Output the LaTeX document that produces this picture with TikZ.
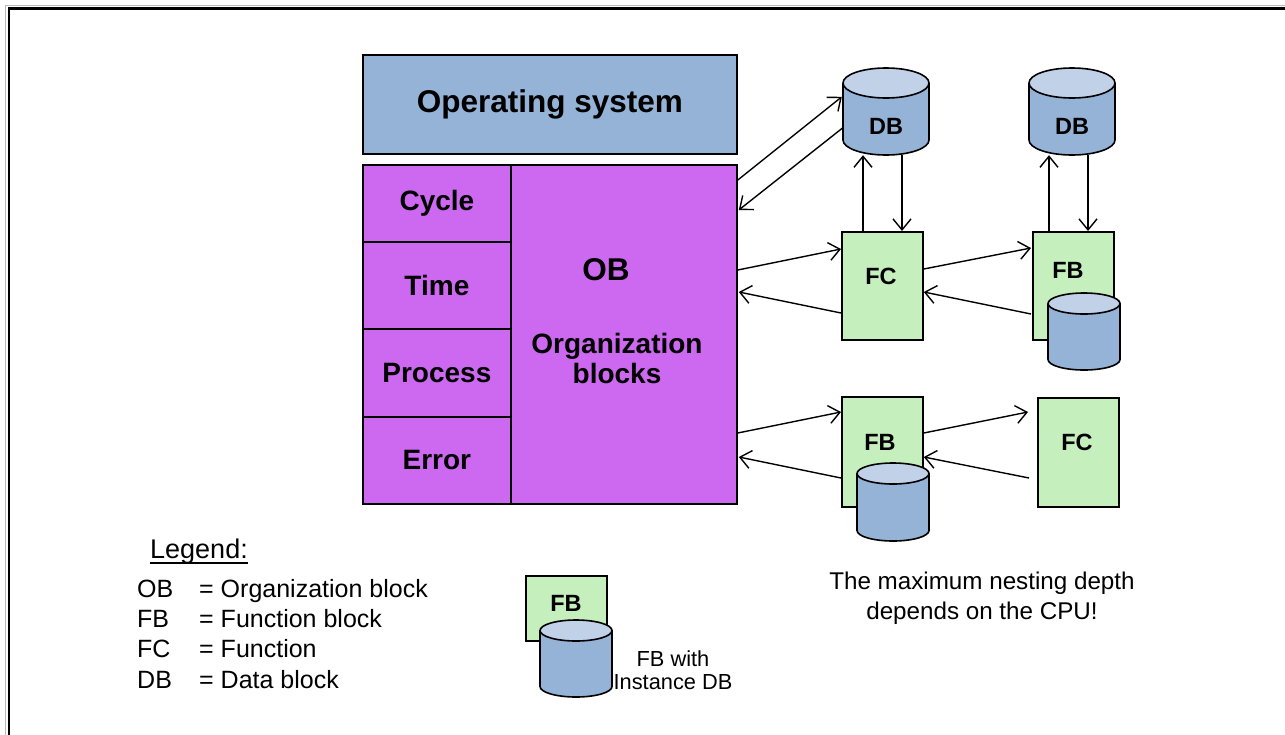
\documentclass[tikz,border=0pt]{standalone}
\usepackage{fontspec}
\setmainfont{Liberation Sans}
\usetikzlibrary{arrows.meta}

\definecolor{osblue}{RGB}{149,179,215}
\definecolor{dbtop}{RGB}{192,209,232}
\definecolor{obpurple}{RGB}{205,104,240}
\definecolor{fgreen}{RGB}{198,239,190}

% data block cylinder: name, centre x, top y, bottom y, x radius, y radius
\newcommand\dbcyl[6]{%
  \fill[osblue] ({#2-#5},{#3+#6}) -- ({#2-#5},{#4-#6})
     arc[start angle=180,end angle=0,x radius=#5,y radius=#6] -- ({#2+#5},{#3+#6}) -- cycle;
  \draw[line width=1.6pt] ({#2-#5},{#3+#6}) -- ({#2-#5},{#4-#6})
     arc[start angle=180,end angle=0,x radius=#5,y radius=#6] -- ({#2+#5},{#3+#6});
  \draw[line width=1.6pt,fill=dbtop] (#2,{#3+#6}) ellipse[x radius=#5,y radius=#6];
  \node[inner sep=0,minimum width={2*#5},minimum height={#4-#3}] (#1) at (#2,{(#3+#4)/2}) {};
}

\begin{document}
\begin{tikzpicture}[x=1pt,y=-1pt,
  blk/.style={draw=black,line width=1.8pt,inner sep=0,anchor=north west},
  purplebox/.style={blk,fill=obpurple},
  greenbox/.style={blk,fill=fgreen},
  arr/.style={line width=1.4pt,-{Straight Barb[length=11pt,width=18pt]}},
  cell/.style={font=\fontsize{28}{33}\selectfont\bfseries},
  small/.style={inner sep=0,font=\fontsize{23.5}{27}\selectfont\bfseries},
  legtxt/.style={inner sep=0,anchor=base west,font=\fontsize{25}{30}\selectfont}]

\useasboundingbox (0,0) rectangle (1285,734);

% page frame
\draw[gray!55,line width=1.4pt] (5.6,5.6) rectangle (1300,750);
\draw[black,line width=2.6pt] (8.8,8.4) rectangle (1300,750);

% operating system
\node[blk,fill=osblue,minimum width=374pt,minimum height=99pt,
      font=\fontsize{31.5}{36}\selectfont\bfseries] (os) at (362,54) {Operating system};

% organization blocks
\node[purplebox,minimum width=226pt,minimum height=339pt] (ob) at (510,164) {};
\node[purplebox,cell,minimum width=148pt,minimum height=77pt] (cyc) at (362,164) {Cycle};
\node[purplebox,cell,minimum width=148pt,minimum height=87pt] (tim) at (362,241) {Time};
\node[purplebox,cell,minimum width=148pt,minimum height=88pt] (pro) at (362,328) {Process};
\node[purplebox,cell,minimum width=148pt,minimum height=87pt] (err) at (362,416) {Error};
\node[inner sep=0,font=\fontsize{31.5}{36}\selectfont\bfseries] (obt) at (606,270) {OB};
\node[cell,inner sep=0,align=center,font=\fontsize{28}{30}\selectfont\bfseries] (obn) at (617,358) {Organization\\blocks};

% functions and function blocks
\node[greenbox,minimum width=81pt,minimum height=108pt] (fc1) at (841,231) {};
\node[small] (fc1t) at (881,276) {FC};
\node[greenbox,minimum width=81pt,minimum height=108pt] (fb1) at (1032,231) {};
\node[small] (fb1t) at (1068,270) {FB};
\node[greenbox,minimum width=81pt,minimum height=110pt] (fb2) at (841,396) {};
\node[small] (fb2t) at (880,442) {FB};
\node[greenbox,minimum width=81pt,minimum height=109pt] (fc2) at (1037,397) {};
\node[small] (fc2t) at (1077,442) {FC};

% data blocks
\dbcyl{db1}{886}{68}{155}{43}{15}
\node[small] (db1t) at (886,126) {DB};
\dbcyl{db2}{1072}{68}{155}{43}{15}
\node[small] (db2t) at (1072,126) {DB};
\dbcyl{idb1}{1084}{293}{370}{36}{10.5}
\dbcyl{idb2}{893}{463}{541}{36}{10.5}

% calls between blocks
\draw[arr] ([yshift=-16pt]ob.north east) -- ([xshift=-1pt,yshift=-29pt]db1.north west);
\draw[arr] ([yshift=-60pt]db1.north west) -- ([xshift=1pt,yshift=-46pt]ob.north east);
\draw[arr] ([yshift=-106pt]ob.north east) -- ([yshift=-18pt]fc1.north west);
\draw[arr] ([yshift=-82pt]fc1.north west) -- ([xshift=1pt,yshift=-128pt]ob.north east);
\coordinate (u1) at ([xshift=22pt]fc1.north west);
\coordinate (d1) at ([xshift=16pt]db1.south);
\draw[arr] (u1) -- (u1 |- db1.south);
\draw[arr] (d1) -- (d1 |- fc1.north);
\draw[arr] ([yshift=-38pt]fc1.north east) -- ([xshift=-1pt,yshift=-17pt]fb1.north west);
\draw[arr] ([xshift=-1pt,yshift=-83pt]fb1.north west) -- ([yshift=-61pt]fc1.north east);
\coordinate (u2) at ([xshift=17pt]fb1.north west);
\coordinate (d2) at ([xshift=16pt]db2.south);
\draw[arr] (u2) -- (u2 |- db2.south);
\draw[arr] (d2) -- (d2 |- fb1.north);
\draw[arr] ([yshift=-269pt]ob.north east) -- ([yshift=-16pt]fb2.north west);
\draw[arr] ([yshift=-82pt]fb2.north west) -- ([xshift=1pt,yshift=-293pt]ob.north east);
\coordinate (fc2in) at ([xshift=-9pt,yshift=-15pt]fc2.north west);
\coordinate (fc2out) at ([xshift=-8pt,yshift=-81pt]fc2.north west);
\draw[arr] ([yshift=-37pt]fb2.north east) -- (fc2in);
\draw[arr] (fc2out) -- ([yshift=-61pt]fb2.north east);

% legend
\node[legtxt,font=\fontsize{27}{32}\selectfont] (leg) at (150,558) {Legend:};
\draw[line width=1.4pt] ([yshift=-5pt]leg.base west) -- ([yshift=-5pt]leg.base east);
\node[legtxt] (k1) at (137,597) {OB};
\node[legtxt] (v1) at (199,597) {= Organization block};
\node[legtxt] (k2) at (137,627) {FB};
\node[legtxt] (v2) at (199,627) {= Function block};
\node[legtxt] (k3) at (137,657) {FC};
\node[legtxt] (v3) at (199,657) {= Function};
\node[legtxt] (k4) at (137,688) {DB};
\node[legtxt] (v4) at (199,688) {= Data block};

% legend symbol: FB with instance DB
\node[greenbox,minimum width=81pt,minimum height=65pt] (lfb) at (525,575) {};
\node[small] (lfbt) at (566,603) {FB};
\dbcyl{ldb}{576}{620}{697}{36}{10.5}
\node[inner sep=0,align=center,font=\fontsize{21.8}{23}\selectfont] (lnote) at (673,670) {FB with\\Instance DB};

% remark
\node[inner sep=0,align=center,font=\fontsize{24.2}{29.5}\selectfont] (note) at (982,598) {The maximum nesting depth\\depends on the CPU!};

\end{tikzpicture}
\end{document}
